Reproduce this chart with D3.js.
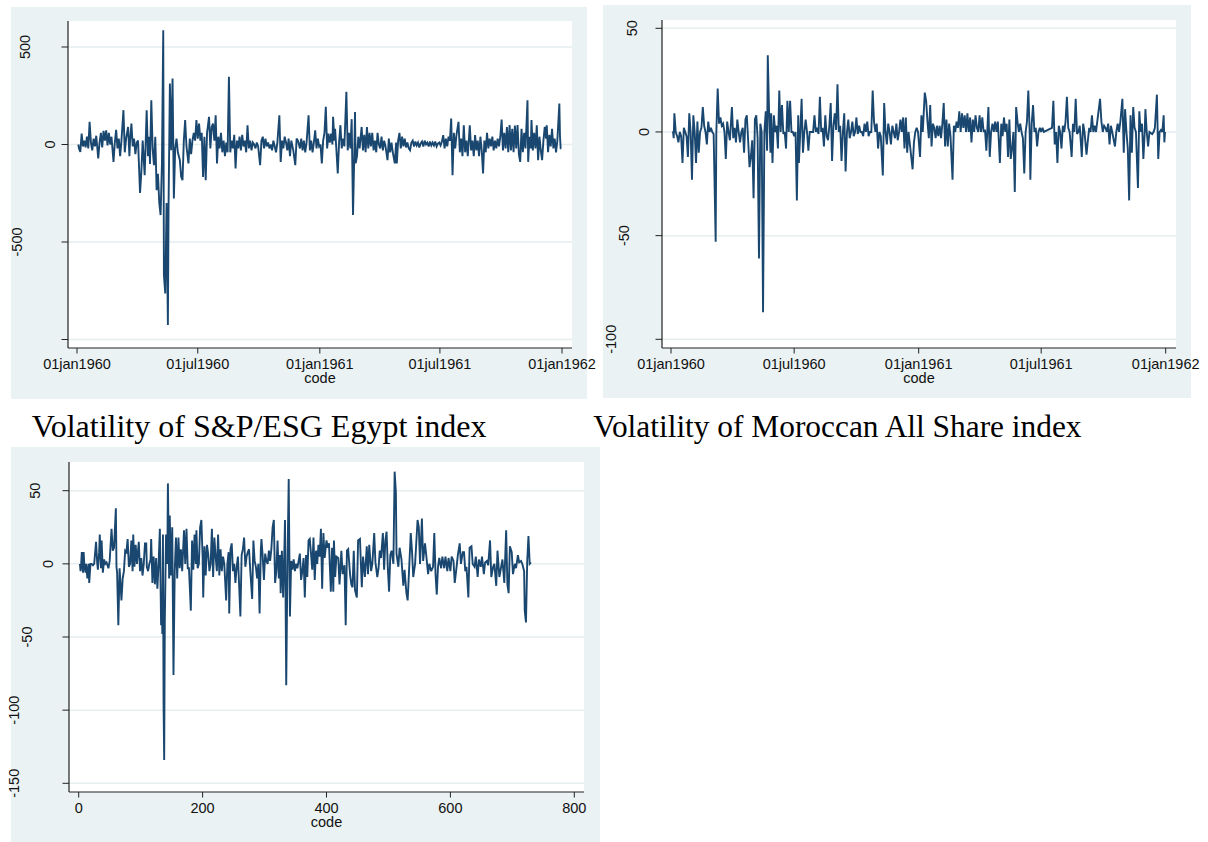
<!DOCTYPE html>
<html>
<head>
<meta charset="utf-8">
<script src="https://cdn.jsdelivr.net/npm/d3@7"></script>
<style>
  body { margin: 0; background: #fff; }
  svg { display: block; }
</style>
</head>
<body>
<script>
// tick labels
var dateTickDays = [0, 182, 366, 547, 731];
var dateTickLabels = ["01jan1960", "01jul1960", "01jan1961", "01jul1961", "01jan1962"];
var codeTicks = [0, 200, 400, 600, 800];
var egyptTicks = [500, 0, -500, -1000];
var moroccoTicks = [50, 0, -50, -100];
var thirdTicks = [50, 0, -50, -100, -150];

// [code, value]
var egyptPts = [[2,0],[3,-20],[5,-38],[7,56],[9,-10],[11,20],[13,-15],[15,40],[17,-20],[19,116],[21,10],[23,-30],[25,30],[27,-10],[29,45],[32,-72],[34,10],[36,60],[38,-15],[40,70],[42,20],[44,73],[46,-5],[48,60],[50,0],[52,40],[55,-89],[57,10],[59,75],[61,-20],[63,30],[65,-60],[67,20],[70,176],[72,-40],[74,30],[77,90],[79,-60],[80,20],[82,107],[84,-10],[86,30],[88,-50],[90,10],[92,20],[95,-248],[97,-140],[99,20],[102,-157],[105,176],[107,-60],[109,40],[110,-100],[112,227],[114,-20],[116,-106],[118,40],[120,-234],[122,-150],[124,-300],[126,-362],[128,-100],[130,586],[131,-670],[133,-764],[135,-300],[137,-926],[138,-311],[140,313],[142,-30],[144,338],[146,-277],[148,-20],[150,30],[152,-40],[155,-80],[157,-166],[159,-183],[161,20],[163,125],[165,-10],[168,-97],[170,30],[172,-50],[174,20],[176,60],[178,20],[180,125],[182,30],[184,107],[186,20],[188,60],[190,-166],[192,40],[194,-183],[196,60],[199,142],[201,-20],[203,90],[205,107],[207,20],[209,150],[211,-97],[213,40],[215,-20],[217,60],[219,-40],[221,20],[223,-60],[225,10],[227,-40],[229,347],[231,-40],[233,20],[235,-20],[237,50],[239,-123],[241,20],[243,-20],[245,40],[247,-30],[249,50],[251,-10],[253,20],[255,-40],[257,99],[259,-20],[261,20],[263,-30],[265,10],[267,0],[269,-20],[271,10],[273,-10],[276,-106],[278,20],[280,40],[282,-20],[284,30],[286,-10],[288,10],[290,-20],[292,0],[294,-30],[296,20],[298,-10],[300,-40],[302,10],[305,150],[307,-89],[309,20],[311,-20],[313,40],[315,10],[317,-30],[319,30],[321,-60],[323,20],[326,-30],[329,-106],[331,30],[333,20],[336,-20],
  [338,30],[340,-30],[342,20],[344,-40],[346,10],[349,150],[351,-30],[353,20],[355,-40],[357,10],[359,73],[361,-20],[363,30],[365,-10],[367,0],[369,-97],[371,20],[373,60],[375,193],[377,-20],[379,56],[381,10],[383,56],[385,0],[386,142],[388,20],[389,80],[391,-30],[393,-149],[395,10],[397,99],[399,-20],[401,30],[403,-10],[406,270],[408,-30],[410,60],[412,-20],[414,130],[416,-362],[418,-40],[419,167],[420,-97],[422,-60],[424,40],[426,-20],[429,90],[431,-30],[433,50],[435,-40],[437,90],[439,-20],[441,60],[443,-10],[445,60],[447,-30],[449,20],[451,-40],[453,60],[455,0],[457,-20],[459,40],[461,-30],[463,20],[465,-10],[468,-80],[470,30],[472,-40],[474,10],[476,-40],[479,-97],[481,10],[482,-97],[484,20],[486,60],[488,-20],[490,40],[492,-10],[494,30],[496,-15],[498,10],[500,-20],[502,-30],[504,10],[506,20],[508,-10],[510,15],[512,-5],[514,10],[516,-15],[518,5],[520,15],[522,-10],[524,20],[526,0],[528,10],[530,-10],[532,15],[534,-5],[536,10],[538,-5],[540,15],[542,-10],[544,5],[546,10],[548,-5],[550,15],[552,48],[554,-20],[556,30],[558,-10],[560,40],[562,20],[564,133],[566,-157],[568,60],[570,-20],[572,50],[575,116],[577,-40],[579,30],[581,-60],[583,99],[585,-40],[587,20],[589,-60],[592,99],[594,-30],[596,20],[598,-60],[600,48],[602,-30],[604,20],[606,-60],[608,40],[610,-30],[612,-149],[614,20],[616,-40],[618,60],[620,-20],[622,30],[624,-10],[626,40],[628,-30],[630,20],[632,-20],[634,30],[636,-10],[638,40],[640,128],[642,-30],[644,60],[646,-20],[648,90],[650,-40],[652,100],[654,-30],[656,80],[658,-40],[660,97],[662,-20],[664,100],[666,-50],[668,-89],[670,80],[672,-40],[674,60],[676,-20],[679,227],[680,-89],[682,40],[684,-20],[685,125],[687,-30],[689,60],[691,-20],[693,99],[695,-80],[697,40],[699,-30],[701,-80],[703,20],[705,90],[707,30],[708,99],[710,-40],[712,50],[714,-10],[716,80],[718,-20],[720,30],[722,-40],[724,20],[727,210],[728,40],[729,-20],[730,-20]];

var moroccoPts = [[2,0],[3,0],[4,-3],[5,9],[7,0],[9,-2],[11,-5],[13,0],[15,-2],[17,-15],[19,2],[21,0],[23,-2],[25,-12],[27,9],[29,0],[31,-23],[33,8],[35,0],[37,-15],[39,5],[41,-10],[43,0],[45,2],[47,12],[49,3],[51,0],[53,-6],[55,5],[57,0],[59,2],[61,0],[63,-1],[66,-53],[67,0],[69,21],[71,4],[73,7],[75,3],[77,4],[79,0],[81,-13],[83,5],[85,0],[87,-4],[90,12],[92,-3],[94,2],[96,-5],[98,6],[100,0],[102,-5],[104,0],[106,2],[108,-10],[110,6],[112,8],[114,-4],[116,-17],[118,-12],[120,-4],[122,-32],[124,6],[126,8],[128,-3],[130,-61],[132,4],[134,0],[136,-87],[138,0],[140,10],[142,-9],[143,37],[145,9],[147,-10],[148,9],[150,-15],[152,8],[154,0],[156,3],[158,-8],[160,20],[162,0],[164,13],[166,-1],[168,0],[170,-8],[172,15],[174,0],[176,15],[178,0],[180,0],[182,-2],[184,0],[186,-33],[188,8],[189,-15],[191,0],[193,16],[195,-10],[197,0],[199,6],[201,0],[203,-9],[205,0],[207,0],[210,0],[212,8],[214,0],[216,2],[218,-1],[220,17],[222,0],[224,2],[226,-7],[228,8],[230,-2],[232,-4],[234,3],[236,14],[238,-14],[240,3],[242,9],[244,1],[246,23],[248,0],[250,3],[252,-14],[254,0],[256,9],[258,-19],[260,0],[262,6],[264,-3],[266,0],[268,5],[270,-2],[272,0],[274,7],[276,-1],[278,3],[280,0],[282,0],[284,-2],[286,4],[288,0],[290,5],[292,-2],[294,0],[296,0],[298,20],[300,5],[302,0],[304,4],[306,-8],[308,0],[310,-2],[313,-21],[315,14],[317,0],[319,-6],[321,4],[323,0],[325,-6],[327,3],[329,0],[331,-3],[333,4],[335,-4],[337,0],
  [339,6],[341,0],[343,7],[345,-8],[347,7],[349,-10],[351,0],[353,-6],[355,-12],[357,-18],[359,-5],[361,0],[363,2],[365,0],[368,-12],[370,8],[372,0],[375,19],[377,15],[379,5],[381,-3],[383,13],[385,-7],[387,4],[389,2],[391,-3],[393,3],[395,-2],[397,3],[399,-3],[401,4],[403,14],[405,-7],[407,6],[409,-7],[411,4],[413,-2],[416,-23],[418,3],[420,0],[422,5],[424,2],[426,10],[428,0],[430,9],[432,2],[434,8],[436,0],[438,9],[440,0],[442,7],[444,-5],[446,6],[448,0],[450,8],[452,2],[454,0],[456,8],[458,0],[460,7],[462,0],[464,1],[466,-9],[469,12],[471,-12],[473,0],[475,4],[477,0],[479,5],[481,0],[483,5],[486,-15],[488,4],[490,-2],[492,7],[494,0],[496,4],[498,-12],[500,6],[502,-13],[504,-8],[506,0],[508,-29],[510,12],[512,5],[514,0],[516,4],[518,0],[520,-3],[522,-20],[524,0],[526,5],[528,20],[530,0],[531,-23],[533,4],[535,13],[537,0],[539,2],[541,-7],[543,0],[545,2],[547,0],[549,2],[551,0],[563,2],[565,15],[567,-6],[569,0],[571,-15],[573,3],[575,0],[577,-8],[579,3],[581,0],[583,5],[585,17],[587,2],[589,0],[592,-12],[594,4],[596,0],[598,16],[600,-1],[602,0],[604,3],[607,-12],[609,4],[611,0],[614,-11],[616,-4],[618,2],[620,0],[622,8],[624,0],[626,3],[628,0],[634,16],[636,5],[638,0],[640,3],[642,2],[644,0],[646,4],[648,-6],[650,3],[652,0],[656,-7],[658,0],[660,4],[662,0],[664,5],[667,16],[669,-10],[671,11],[673,0],[675,-8],[677,-33],[679,8],[681,-10],[683,12],[685,2],[687,0],[690,-27],[692,10],[694,0],[696,4],[698,-13],[700,0],[701,11],[703,0],[705,-7],[707,0],[711,-1],[713,0],[715,2],[718,18],[720,-13],[722,0],[724,1],[726,0],[728,8],[729,-5],[730,0]];

var thirdPts = [[2,0],[3,-5],[4,0],[5,8],[6,0],[7,-6],[8,8],[9,0],[11,-6],[12,0],[14,-10],[16,0],[17,-13],[19,0],[21,0],[23,-1],[25,0],[28,15],[30,0],[31,-4],[33,8],[34,20],[36,-3],[37,16],[39,-6],[41,3],[43,0],[45,1],[48,-3],[50,2],[53,24],[55,9],[57,11],[60,38],[61,-2],[62,-6],[64,-42],[66,-3],[69,-25],[71,-10],[73,-5],[75,9],[77,8],[79,17],[81,-2],[83,0],[85,16],[87,-5],[88,20],[90,-2],[92,13],[94,0],[97,15],[99,-5],[101,4],[103,-8],[105,0],[107,14],[109,14],[110,-2],[112,-5],[114,0],[116,3],[117,17],[119,-13],[121,5],[123,-14],[125,4],[127,-17],[129,0],[131,24],[133,-42],[134,-20],[135,-48],[136,20],[137,-96],[138,-134],[139,-40],[141,20],[143,0],[144,55],[146,-10],[147,33],[149,-8],[151,25],[153,-76],[155,-5],[157,18],[159,-10],[161,18],[163,-3],[165,10],[167,-5],[170,23],[172,0],[174,24],[176,-3],[178,-3],[181,-32],[183,16],[185,-4],[187,20],[189,0],[190,23],[192,-3],[194,0],[196,25],[198,30],[200,5],[201,-23],[203,12],[205,-8],[207,13],[209,7],[211,-5],[213,0],[215,24],[217,-9],[219,18],[221,5],[223,-5],[225,20],[227,-8],[229,10],[231,-5],[233,5],[235,0],[238,-25],[240,0],[242,8],[243,-34],[245,10],[247,14],[249,-5],[251,0],[253,-13],[255,-2],[257,5],[259,-15],[261,-36],[263,6],[265,10],[267,18],[269,-2],[271,5],[273,8],[275,10],[277,-5],[280,-24],[282,16],[284,2],[286,-2],[288,-10],[290,0],[292,-34],[294,10],[295,17],[297,5],[299,-11],[301,7],[303,2],[305,0],[307,9],[309,2],[311,10],[313,25],[315,30],[317,-13],[319,-5],[321,16],[323,-10],[325,6],[326,-20],[328,9],[330,-23],[332,10],[333,30],[335,-83],[337,0],[339,58],[341,-36],[343,2],[345,-4],[347,3],[349,-5],[351,0],[353,-3],[355,2],
  [357,7],[359,-11],[361,-5],[363,4],[365,-23],[367,6],[369,-9],[371,16],[373,17],[375,7],[377,-4],[379,18],[381,-11],[383,9],[385,0],[387,13],[389,5],[391,24],[393,-17],[395,21],[397,4],[400,16],[402,11],[404,14],[407,-19],[409,11],[411,-19],[412,16],[414,-9],[416,5],[419,4],[421,-14],[424,9],[426,-7],[429,-1],[431,-42],[433,9],[435,10],[438,-7],[440,-14],[442,-16],[444,9],[446,-18],[449,-23],[451,16],[454,17],[457,-16],[459,5],[462,-9],[465,12],[467,-7],[469,13],[472,-5],[474,0],[477,21],[479,1],[482,-9],[484,-3],[486,9],[488,4],[491,21],[493,-4],[495,16],[497,22],[499,-3],[501,-19],[503,6],[505,9],[508,0],[510,63],[512,49],[513,7],[516,-2],[518,11],[521,3],[524,-15],[526,-4],[529,-20],[531,-25],[533,-7],[536,21],[538,9],[540,-9],[543,0],[547,30],[549,25],[551,0],[554,31],[556,2],[559,14],[561,6],[564,-7],[566,0],[569,-5],[572,-2],[574,21],[576,-7],[578,-21],[580,-2],[582,4],[585,-3],[587,5],[590,-3],[592,5],[595,-5],[597,4],[600,-5],[602,5],[605,2],[607,-13],[610,-2],[612,6],[615,14],[617,0],[620,8],[622,8],[624,-5],[626,-2],[629,-23],[631,11],[634,12],[636,0],[639,-2],[641,5],[644,-9],[646,3],[649,-2],[651,5],[654,-7],[656,1],[659,2],[661,-1],[664,16],[666,-9],[669,-2],[671,0],[674,-15],[676,9],[679,-9],[682,-2],[684,3],[687,-13],[690,23],[692,-14],[694,-20],[696,12],[699,8],[701,-7],[704,0],[706,-3],[709,6],[711,1],[714,2],[716,0],[719,-5],[720,-32],[722,-40],[724,2],[726,19],[728,0],[730,1]];

var titles = ["Volatility of S&P/ESG Egypt index", "Volatility of Moroccan All Share index"];

var W = 1208, H = 842;
var bgCol = "#eaf2f3", gridCol = "#e6eef0", lineCol = "#1a476f";
var labelFont = "'Liberation Sans', Arial, sans-serif";

var svg = d3.select("body").append("svg").attr("width", W).attr("height", H);

function panel(o) {
  var g = svg.append("g");
  g.append("rect").attr("x", o.bg[0]).attr("y", o.bg[1])
    .attr("width", o.bg[2] - o.bg[0]).attr("height", o.bg[3] - o.bg[1]).attr("fill", bgCol);
  g.append("rect").attr("x", o.plot[0]).attr("y", o.plot[1])
    .attr("width", o.plot[2] - o.plot[0]).attr("height", o.plot[3] - o.plot[1]).attr("fill", "#fff");

  var x = d3.scaleLinear().domain(o.xDom).range(o.xRange);
  var y = d3.scaleLinear().domain(o.yDom).range(o.yRange);

  // grid
  g.selectAll(".grid").data(o.yTicks).enter().append("line")
    .attr("x1", o.plot[0]).attr("x2", o.plot[2])
    .attr("y1", function(d) { return y(d); }).attr("y2", function(d) { return y(d); })
    .attr("stroke", gridCol).attr("stroke-width", 1.5);

  // series
  var line = d3.line().x(function(d) { return x(d[0]); }).y(function(d) { return y(d[1]); });
  g.append("path").datum(o.data).attr("d", line)
    .attr("fill", "none").attr("stroke", lineCol).attr("stroke-width", 1.9)
    .attr("stroke-linejoin", "miter").attr("stroke-miterlimit", 3);

  // axis lines
  g.append("line").attr("x1", o.plot[0]).attr("x2", o.plot[0])
    .attr("y1", o.plot[1]).attr("y2", o.plot[3]).attr("stroke", "#222").attr("stroke-width", 1.2);
  g.append("line").attr("x1", o.plot[0]).attr("x2", o.plot[2])
    .attr("y1", o.plot[3]).attr("y2", o.plot[3]).attr("stroke", "#222").attr("stroke-width", 1.2);

  // y ticks + rotated labels
  g.selectAll(".yt").data(o.yTicks).enter().append("line")
    .attr("x1", o.plot[0] - 6.5).attr("x2", o.plot[0])
    .attr("y1", function(d) { return y(d); }).attr("y2", function(d) { return y(d); })
    .attr("stroke", "#222").attr("stroke-width", 1);
  var tickLeft = o.plot[0] - 6.5;
  g.selectAll(".yl").data(o.yTicks).enter().append("text")
    .attr("font-family", labelFont).attr("font-size", 14.5).attr("fill", "#111")
    .attr("text-anchor", "middle").attr("dominant-baseline", "central")
    .text(function(d) { return d; })
    .attr("clip-path", function(d) { return o.clipTick === d ? "url(#clipcut)" : null; })
    .attr("transform", function(d) {
      var w = this.getComputedTextLength();
      var cx = tickLeft - (o.lblA + 1.6 * w);
      return "translate(" + cx + "," + y(d) + ") rotate(-90)";
    });

  // x ticks + labels
  g.selectAll(".xt").data(o.xTicks).enter().append("line")
    .attr("x1", function(d) { return x(d); }).attr("x2", function(d) { return x(d); })
    .attr("y1", o.plot[3]).attr("y2", o.plot[3] + 5.5)
    .attr("stroke", "#222").attr("stroke-width", 1);
  g.selectAll(".xl").data(o.xTicks).enter().append("text")
    .attr("x", function(d) { return x(d); }).attr("y", o.plot[3] + 21)
    .attr("font-family", labelFont).attr("font-size", 14.5).attr("fill", "#111")
    .attr("text-anchor", "middle")
    .text(function(d, i) { return o.xLabels[i]; });
  g.append("text").attr("x", (o.plot[0] + o.plot[2]) / 2).attr("y", o.plot[3] + 34.5)
    .attr("font-family", labelFont).attr("font-size", 14.5).attr("fill", "#111")
    .attr("text-anchor", "middle").text("code");
}

// the -1000 label of the first panel only shows a thin sliver
svg.append("clipPath").attr("id", "clipcut").attr("clipPathUnits", "userSpaceOnUse")
  .append("rect").attr("x", 5).attr("y", 320).attr("width", 3).attr("height", 29);

panel({
  bg: [11, 7, 587, 399], plot: [68, 21, 572, 348],
  xDom: [0, 731], xRange: [77, 562], yDom: [-1000, 500], yRange: [339.5, 47],
  yTicks: egyptTicks, xTicks: dateTickDays, xLabels: dateTickLabels,
  data: egyptPts, lblA: -1.9, clipTick: -1000
});
panel({
  bg: [603, 5, 1191, 398], plot: [662, 20, 1176, 348],
  xDom: [0, 731], xRange: [671, 1165.7], yDom: [-100, 50], yRange: [339.3, 28.3],
  yTicks: moroccoTicks, xTicks: dateTickDays, xLabels: dateTickLabels,
  data: moroccoPts, lblA: -1.9
});
panel({
  bg: [11, 447, 600, 842], plot: [69, 462, 584, 792],
  xDom: [0, 800], xRange: [78.7, 574.3], yDom: [-150, 50], yRange: [783.3, 490.7],
  yTicks: thirdTicks, xTicks: codeTicks, xLabels: codeTicks.map(String),
  data: thirdPts, lblA: 2
});

// captions in serif, scaled to the width they take in the picture
var capSpan = [[31.7, 486.7], [593.3, 1081.7]];
titles.forEach(function(t, i) {
  var tx = svg.append("text").attr("x", capSpan[i][0]).attr("y", 437)
    .attr("font-family", "'Liberation Serif', 'Times New Roman', serif")
    .attr("font-size", 30).attr("fill", "#000").text(t);
  var w = tx.node().getComputedTextLength();
  tx.attr("font-size", 30 * (capSpan[i][1] - capSpan[i][0]) / w);
});
</script>
</body>
</html>
